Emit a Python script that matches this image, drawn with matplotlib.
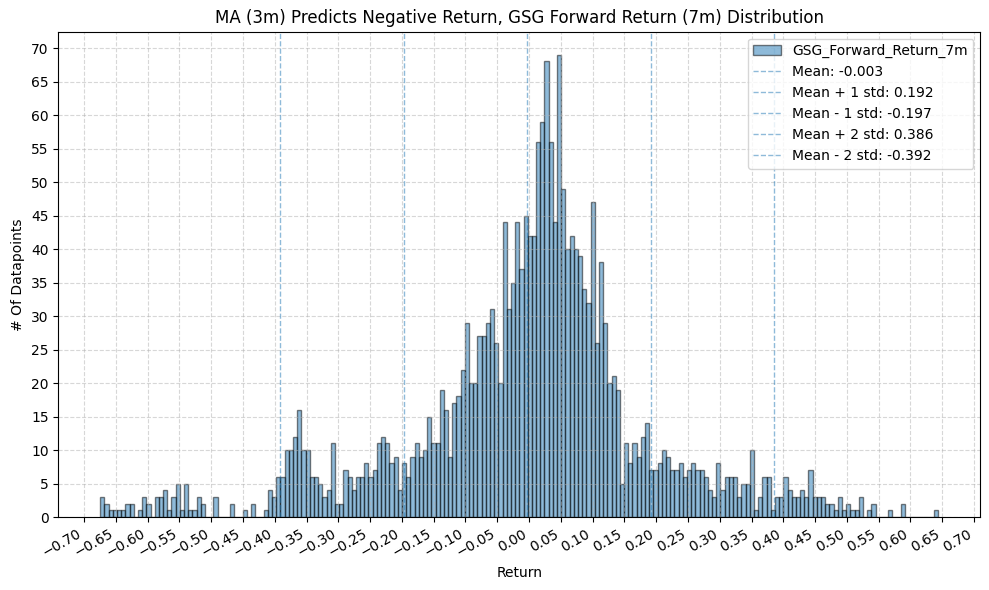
import matplotlib

matplotlib.use("Agg")
import matplotlib.pyplot as plt  # noqa: E402
import numpy as np  # noqa: E402
from matplotlib.ticker import MultipleLocator  # noqa: E402

# ---------- data -----------------------------------------------------------

series_name = "GSG_Forward_Return_7m"
ret_min = -0.6745
ret_max = 0.644
n_bins = 200

counts = [
    3, 2, 1, 1, 1, 1, 2, 2, 0, 1, 3, 2, 0, 3, 3, 4, 1, 3, 5, 1,
    5, 1, 1, 3, 2, 0, 0, 3, 0, 0, 0, 2, 0, 0, 1, 0, 2, 0, 0, 1,
    4, 3, 6, 6, 10, 10, 12, 16, 10, 10, 6, 6, 5, 3, 4, 11, 2, 2, 7, 6,
    4, 6, 6, 8, 6, 7, 11, 12, 11, 8, 9, 4, 8, 6, 9, 11, 9, 10, 15, 11,
    11, 19, 16, 9, 17, 18, 22, 29, 20, 20, 27, 27, 29, 31, 26, 20, 44, 31, 35, 44,
    37, 45, 42, 42, 56, 59, 68, 56, 44, 69, 49, 40, 42, 40, 39, 34, 32, 47, 26, 38,
    29, 20, 21, 19, 5, 11, 8, 11, 9, 12, 14, 7, 7, 8, 10, 9, 7, 7, 8, 6,
    7, 8, 7, 7, 6, 4, 3, 8, 4, 6, 6, 6, 3, 5, 5, 10, 1, 3, 6, 6,
    1, 3, 3, 6, 4, 3, 3, 4, 3, 7, 3, 3, 3, 2, 2, 1, 3, 1, 2, 1,
    1, 3, 0, 1, 2, 0, 0, 0, 1, 0, 0, 2, 0, 0, 0, 0, 0, 0, 0, 1,
]

std_lines = [
    ("Mean: -0.003", -0.003),
    ("Mean + 1 std: 0.192", 0.192),
    ("Mean - 1 std: -0.197", -0.197),
    ("Mean + 2 std: 0.386", 0.386),
    ("Mean - 2 std: -0.392", -0.392),
]

title = "MA (3m) Predicts Negative Return, GSG Forward Return (7m) Distribution"

# ---------- plot -----------------------------------------------------------

edges = np.linspace(ret_min, ret_max, n_bins + 1)
centers = (edges[:-1] + edges[1:]) / 2

fig, ax = plt.subplots(figsize=(9.89, 5.9), dpi=100)
fig.subplots_adjust(left=0.059, right=0.9912, bottom=0.1237, top=0.9463)

ax.hist(centers, bins=edges, weights=counts, color="#1f77b4", alpha=0.5,
        edgecolor="black", label=series_name)

for label, x in std_lines:
    ax.axvline(x, color="#1f77b4", linestyle="--", linewidth=1, alpha=0.5,
               label=label)

ax.set_title(title)
ax.set_xlabel("Return")
ax.set_ylabel("# Of Datapoints")
ax.xaxis.set_major_locator(MultipleLocator(0.05))
ax.yaxis.set_major_locator(MultipleLocator(5))
ax.grid(True, linestyle="--", alpha=0.5)
ax.legend(loc="upper right")

plt.setp(ax.get_xticklabels(), rotation=30, ha="right")
fig.savefig("out.png", dpi=100)
plt.close(fig)
